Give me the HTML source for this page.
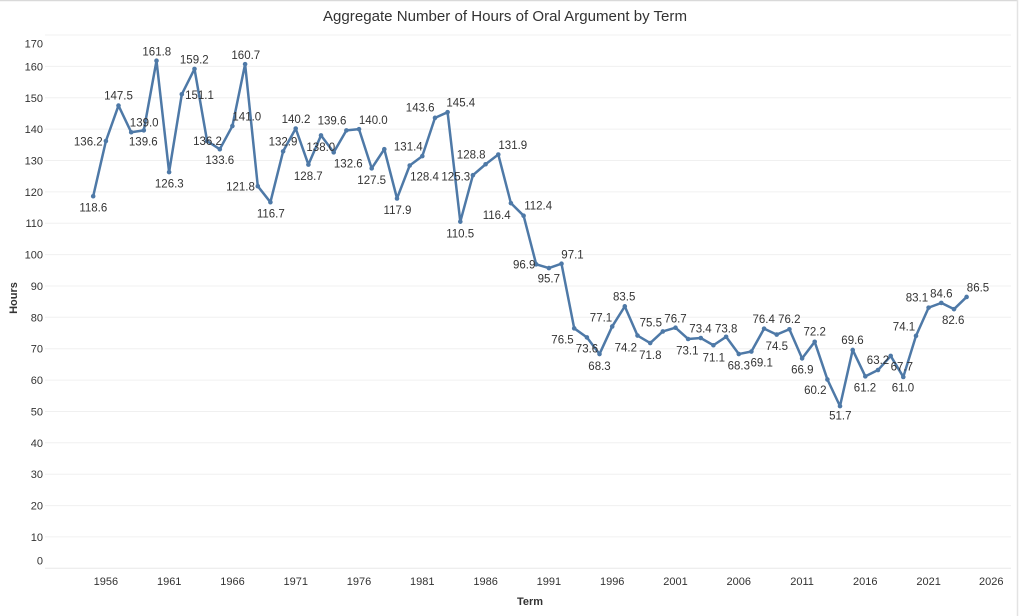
<!DOCTYPE html>
<html><head><meta charset="utf-8"><style>
html,body{margin:0;padding:0;background:#fff;}
svg{display:block;}
text{font-family:"Liberation Sans",Arial,sans-serif;}
.t{font-size:11.5px;fill:#333;text-anchor:middle;}
.yl{font-size:11px;fill:#333;text-anchor:end;}
.xl{font-size:11px;fill:#333;text-anchor:middle;}
.g{stroke:#f0f0f0;stroke-width:1;}
</style></head><body>
<svg width="1022" height="616" viewBox="0 0 1022 616" xmlns="http://www.w3.org/2000/svg">
<rect x="0" y="0" width="1022" height="616" fill="#fff"/>
<line x1="0" y1="0.5" x2="1018" y2="0.5" stroke="#d9d9d9" stroke-width="1.5"/>
<line x1="1017.5" y1="0" x2="1017.5" y2="616" stroke="#e3e3e3" stroke-width="1.5"/>
<text x="505" y="21" style="font-size:15px;fill:#333;text-anchor:middle" textLength="364" lengthAdjust="spacingAndGlyphs">Aggregate Number of Hours of Oral Argument by Term</text>
<g class="g">
<line x1="45" y1="35" x2="1011" y2="35"/>
<line x1="45" y1="66.4" x2="1011" y2="66.4"/>
<line x1="45" y1="97.8" x2="1011" y2="97.8"/>
<line x1="45" y1="129.1" x2="1011" y2="129.1"/>
<line x1="45" y1="160.5" x2="1011" y2="160.5"/>
<line x1="45" y1="191.9" x2="1011" y2="191.9"/>
<line x1="45" y1="223.2" x2="1011" y2="223.2"/>
<line x1="45" y1="254.6" x2="1011" y2="254.6"/>
<line x1="45" y1="286" x2="1011" y2="286"/>
<line x1="45" y1="317.3" x2="1011" y2="317.3"/>
<line x1="45" y1="348.7" x2="1011" y2="348.7"/>
<line x1="45" y1="380.1" x2="1011" y2="380.1"/>
<line x1="45" y1="411.5" x2="1011" y2="411.5"/>
<line x1="45" y1="442.8" x2="1011" y2="442.8"/>
<line x1="45" y1="474.2" x2="1011" y2="474.2"/>
<line x1="45" y1="505.6" x2="1011" y2="505.6"/>
<line x1="45" y1="536.9" x2="1011" y2="536.9"/>
<line x1="45" y1="568.3" x2="1011" y2="568.3" stroke="#e8e8e8"/>
</g>
<g class="yl">
<text x="43" y="47.3">170</text>
<text x="43" y="70.4">160</text>
<text x="43" y="101.8">150</text>
<text x="43" y="133.1">140</text>
<text x="43" y="164.5">130</text>
<text x="43" y="195.9">120</text>
<text x="43" y="227.2">110</text>
<text x="43" y="258.6">100</text>
<text x="43" y="290">90</text>
<text x="43" y="321.3">80</text>
<text x="43" y="352.7">70</text>
<text x="43" y="384.1">60</text>
<text x="43" y="415.5">50</text>
<text x="43" y="446.8">40</text>
<text x="43" y="478.2">30</text>
<text x="43" y="509.6">20</text>
<text x="43" y="540.9">10</text>
<text x="43" y="564.7">0</text>
</g>
<g class="xl">
<text x="105.9" y="585">1956</text>
<text x="169.2" y="585">1961</text>
<text x="232.5" y="585">1966</text>
<text x="295.8" y="585">1971</text>
<text x="359" y="585">1976</text>
<text x="422.3" y="585">1981</text>
<text x="485.6" y="585">1986</text>
<text x="548.9" y="585">1991</text>
<text x="612.2" y="585">1996</text>
<text x="675.5" y="585">2001</text>
<text x="738.8" y="585">2006</text>
<text x="802.1" y="585">2011</text>
<text x="865.3" y="585">2016</text>
<text x="928.6" y="585">2021</text>
<text x="991.3" y="585">2026</text>
</g>
<text x="530" y="605" style="font-size:11px;font-weight:bold;fill:#333;text-anchor:middle">Term</text>
<text transform="translate(17,298) rotate(-90)" style="font-size:11px;font-weight:bold;fill:#333;text-anchor:middle">Hours</text>
<polyline fill="none" stroke="#4e79a7" stroke-width="2.5" stroke-linejoin="round" stroke-linecap="round" points="93.2,196.25 105.9,141.04 118.5,105.59 131.2,132.26 143.8,130.37 156.5,60.73 169.1,172.1 181.8,94.3 194.5,68.89 207.1,141.04 219.8,149.2 232.4,125.98 245.1,64.18 257.8,186.21 270.4,202.21 283.1,151.39 295.7,128.49 308.4,164.57 321,135.39 333.7,152.33 346.4,130.37 359,129.12 371.7,168.33 384.3,149.2 397,198.45 409.7,165.51 422.3,156.1 435,117.83 447.6,112.18 460.3,221.66 472.9,175.23 485.6,164.25 498.3,154.53 510.9,203.15 523.6,215.7 536.2,264.32 548.9,268.09 561.5,263.7 574.2,328.32 586.9,337.42 599.5,354.04 612.2,326.44 624.8,306.36 637.5,335.53 650.2,343.06 662.8,331.46 675.5,327.69 688.1,338.99 700.8,338.04 713.4,345.26 726.1,336.79 738.8,354.04 751.4,351.53 764.1,328.63 776.7,334.59 789.4,329.26 802.1,358.43 814.7,341.81 827.4,379.45 840,406.12 852.7,349.96 865.3,376.32 878,370.04 890.7,355.93 903.3,376.94 916,335.85 928.6,307.62 941.3,302.91 954,309.18 966.6,296.95"/>
<g fill="#4e79a7">
<circle cx="93.2" cy="196.25" r="2.3"/><circle cx="105.9" cy="141.04" r="2.3"/><circle cx="118.5" cy="105.59" r="2.3"/><circle cx="131.2" cy="132.26" r="2.3"/><circle cx="143.8" cy="130.37" r="2.3"/><circle cx="156.5" cy="60.73" r="2.3"/><circle cx="169.1" cy="172.1" r="2.3"/><circle cx="181.8" cy="94.3" r="2.3"/><circle cx="194.5" cy="68.89" r="2.3"/><circle cx="207.1" cy="141.04" r="2.3"/><circle cx="219.8" cy="149.2" r="2.3"/><circle cx="232.4" cy="125.98" r="2.3"/><circle cx="245.1" cy="64.18" r="2.3"/><circle cx="257.8" cy="186.21" r="2.3"/><circle cx="270.4" cy="202.21" r="2.3"/><circle cx="283.1" cy="151.39" r="2.3"/><circle cx="295.7" cy="128.49" r="2.3"/><circle cx="308.4" cy="164.57" r="2.3"/><circle cx="321" cy="135.39" r="2.3"/><circle cx="333.7" cy="152.33" r="2.3"/><circle cx="346.4" cy="130.37" r="2.3"/><circle cx="359" cy="129.12" r="2.3"/><circle cx="371.7" cy="168.33" r="2.3"/><circle cx="384.3" cy="149.2" r="2.3"/><circle cx="397" cy="198.45" r="2.3"/><circle cx="409.7" cy="165.51" r="2.3"/><circle cx="422.3" cy="156.1" r="2.3"/><circle cx="435" cy="117.83" r="2.3"/><circle cx="447.6" cy="112.18" r="2.3"/><circle cx="460.3" cy="221.66" r="2.3"/><circle cx="472.9" cy="175.23" r="2.3"/><circle cx="485.6" cy="164.25" r="2.3"/><circle cx="498.3" cy="154.53" r="2.3"/><circle cx="510.9" cy="203.15" r="2.3"/><circle cx="523.6" cy="215.7" r="2.3"/><circle cx="536.2" cy="264.32" r="2.3"/><circle cx="548.9" cy="268.09" r="2.3"/><circle cx="561.5" cy="263.7" r="2.3"/><circle cx="574.2" cy="328.32" r="2.3"/><circle cx="586.9" cy="337.42" r="2.3"/><circle cx="599.5" cy="354.04" r="2.3"/><circle cx="612.2" cy="326.44" r="2.3"/><circle cx="624.8" cy="306.36" r="2.3"/><circle cx="637.5" cy="335.53" r="2.3"/><circle cx="650.2" cy="343.06" r="2.3"/><circle cx="662.8" cy="331.46" r="2.3"/><circle cx="675.5" cy="327.69" r="2.3"/><circle cx="688.1" cy="338.99" r="2.3"/><circle cx="700.8" cy="338.04" r="2.3"/><circle cx="713.4" cy="345.26" r="2.3"/><circle cx="726.1" cy="336.79" r="2.3"/><circle cx="738.8" cy="354.04" r="2.3"/><circle cx="751.4" cy="351.53" r="2.3"/><circle cx="764.1" cy="328.63" r="2.3"/><circle cx="776.7" cy="334.59" r="2.3"/><circle cx="789.4" cy="329.26" r="2.3"/><circle cx="802.1" cy="358.43" r="2.3"/><circle cx="814.7" cy="341.81" r="2.3"/><circle cx="827.4" cy="379.45" r="2.3"/><circle cx="840" cy="406.12" r="2.3"/><circle cx="852.7" cy="349.96" r="2.3"/><circle cx="865.3" cy="376.32" r="2.3"/><circle cx="878" cy="370.04" r="2.3"/><circle cx="890.7" cy="355.93" r="2.3"/><circle cx="903.3" cy="376.94" r="2.3"/><circle cx="916" cy="335.85" r="2.3"/><circle cx="928.6" cy="307.62" r="2.3"/><circle cx="941.3" cy="302.91" r="2.3"/><circle cx="954" cy="309.18" r="2.3"/><circle cx="966.6" cy="296.95" r="2.3"/>
</g>
<g class="t">
<text x="93.3" y="211.7">118.6</text>
<text x="88.3" y="145.7">136.2</text>
<text x="118.5" y="99.7">147.5</text>
<text x="144.2" y="126.7">139.0</text>
<text x="143.3" y="145.7">139.6</text>
<text x="156.8" y="55.7">161.8</text>
<text x="169.3" y="187.5">126.3</text>
<text x="199.5" y="99">151.1</text>
<text x="194.3" y="63.3">159.2</text>
<text x="207.5" y="145">136.2</text>
<text x="219.8" y="164">133.6</text>
<text x="246.8" y="120.7">141.0</text>
<text x="245.8" y="59">160.7</text>
<text x="240.5" y="190.7">121.8</text>
<text x="270.8" y="217.3">116.7</text>
<text x="283" y="145.7">132.9</text>
<text x="296" y="123">140.2</text>
<text x="308.3" y="180">128.7</text>
<text x="320.8" y="151">138.0</text>
<text x="332" y="124.5">139.6</text>
<text x="348.3" y="167.3">132.6</text>
<text x="373.3" y="124">140.0</text>
<text x="371.7" y="184">127.5</text>
<text x="397.5" y="214">117.9</text>
<text x="424.5" y="180.7">128.4</text>
<text x="408.3" y="150.7">131.4</text>
<text x="420.2" y="111.7">143.6</text>
<text x="460.8" y="106.3">145.4</text>
<text x="460.2" y="237.3">110.5</text>
<text x="455.8" y="180.7">125.3</text>
<text x="471.2" y="158.3">128.8</text>
<text x="512.8" y="149">131.9</text>
<text x="496.7" y="219">116.4</text>
<text x="538.2" y="209.7">112.4</text>
<text x="524.2" y="268.3">96.9</text>
<text x="548.8" y="282.3">95.7</text>
<text x="572.5" y="258.3">97.1</text>
<text x="562.5" y="343.3">76.5</text>
<text x="587" y="352.3">73.6</text>
<text x="599.5" y="370">68.3</text>
<text x="601" y="321.7">77.1</text>
<text x="624.2" y="300.7">83.5</text>
<text x="625.8" y="351.3">74.2</text>
<text x="650.3" y="359">71.8</text>
<text x="650.8" y="326.3">75.5</text>
<text x="675.5" y="322.3">76.7</text>
<text x="687.3" y="354.7">73.1</text>
<text x="700.5" y="332.3">73.4</text>
<text x="713.8" y="361.3">71.1</text>
<text x="726.2" y="332.3">73.8</text>
<text x="738.8" y="369.7">68.3</text>
<text x="761.7" y="366.7">69.1</text>
<text x="763.7" y="323">76.4</text>
<text x="776.8" y="350">74.5</text>
<text x="789.3" y="323">76.2</text>
<text x="802.3" y="373.3">66.9</text>
<text x="814.7" y="335.7">72.2</text>
<text x="815.3" y="394">60.2</text>
<text x="840.3" y="419.7">51.7</text>
<text x="852.5" y="344">69.6</text>
<text x="865" y="391.3">61.2</text>
<text x="878" y="364">63.2</text>
<text x="901.8" y="370.7">67.7</text>
<text x="903" y="391.7">61.0</text>
<text x="904" y="330.7">74.1</text>
<text x="916.9" y="301.3">83.1</text>
<text x="941.3" y="297.3">84.6</text>
<text x="953.2" y="324">82.6</text>
<text x="978" y="291.7">86.5</text>
</g>
</svg>
</body></html>
